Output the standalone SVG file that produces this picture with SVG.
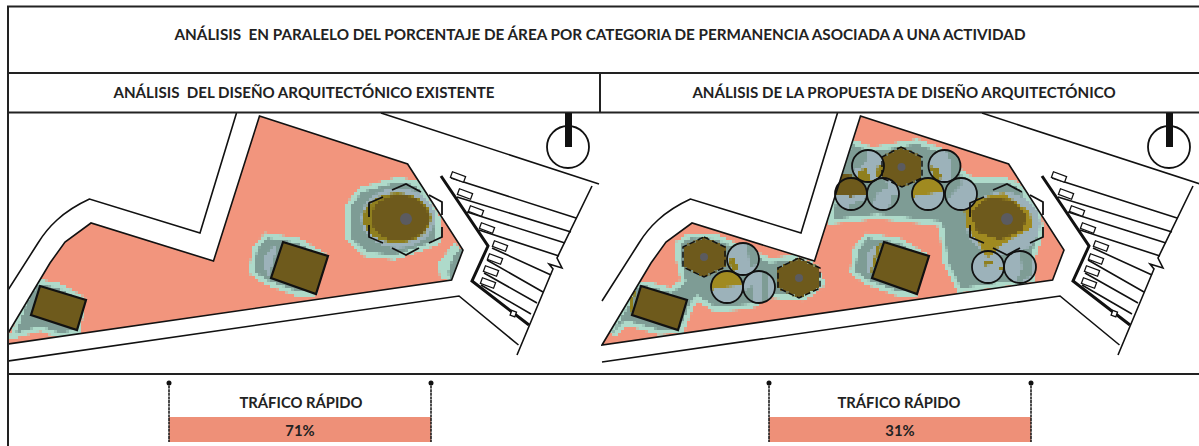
<svg xmlns="http://www.w3.org/2000/svg" width="1199" height="446" viewBox="0 0 1199 446">
<style>
text{font-family:Lato,"Liberation Sans",sans-serif;font-weight:700;fill:#222;text-anchor:middle;white-space:pre}
.t{font-size:15.25px}.h{font-size:15.1px}.b{font-size:14.8px}.p{font-size:14.8px}
.frame{stroke:#222;fill:none;stroke-width:2}
.ln{fill:none;stroke:#111;stroke-width:1.6;stroke-linejoin:miter}
.th{fill:none;stroke:#111;stroke-width:3}
.mt{fill:#AEDACA;stroke:#AEDACA;stroke-width:10}
.gg{fill:#7E9C95}.bl{fill:#9CB2BA}.br{fill:#6E5A1C}.ol{fill:#8F7F1E}.yl{fill:#A08A20}
.bd{fill:#6E5A1C;stroke:#111;stroke-width:2.2}
.hx{fill:none;stroke:#111;stroke-width:1.8}
.hs{fill:none;stroke:#111;stroke-width:1.5;stroke-dasharray:6 3}
.c{fill:none;stroke:#111;stroke-width:1.8}
.dot{fill:#5B5B60}
.st{fill:#fff;stroke:#111;stroke-width:1.3}
</style>
<defs>
<filter id="pix" filterUnits="userSpaceOnUse" x="0" y="0" width="1199" height="446" color-interpolation-filters="sRGB">
<feFlood x="1" y="1" width="1" height="1"/>
<feComposite width="3" height="3"/>
<feTile result="a"/>
<feComposite in="SourceGraphic" in2="a" operator="in"/>
<feMorphology operator="dilate" radius="1"/>
</filter>
<path id="site" d="M259.5 116L407.6 164L463 250L451.6 280L1 345L50 263L65 242L91 223L213.5 261Z"/>
<clipPath id="cl"><use href="#site"/></clipPath>
<clipPath id="cr"><use href="#site" x="601"/></clipPath>
<clipPath id="lp"><rect x="9" y="113" width="591" height="260"/></clipPath>
<clipPath id="rp"><rect x="601" y="113" width="598" height="260"/></clipPath>
<g id="plan">
<path class="ln" d="M236.5 113L200 233L89.5 199Q70 208 57 220Q46 230 38 243L1 301"/>
<path class="ln" d="M381 113L599 184"/>
<path class="ln" d="M1 362L459 296L518.5 345"/>
<path class="ln" d="M592 186L557 258L562 268L549 264L553 269L517 355"/>
<path class="th" d="M441 176L488 246L472 281L529 325"/>
<path class="ln" d="M451 178L576 218M457 197L571 232M467 212L565 243M479 230L559 256M492 248L551 275M487 260L543 292M484 273L537 303M481 285L531 314"/>
<g class="st">
<rect x="451" y="174" width="14" height="6" transform="rotate(20 458 177)"/>
<rect x="458" y="191" width="14" height="6" transform="rotate(20 465 194)"/>
<rect x="469" y="208" width="14" height="6" transform="rotate(20 476 211)"/>
<rect x="480" y="225" width="14" height="6" transform="rotate(20 487 228)"/>
<rect x="493" y="243" width="14" height="6" transform="rotate(20 500 246)"/>
<rect x="488" y="256" width="14" height="6" transform="rotate(20 495 259)"/>
<rect x="484" y="268" width="14" height="6" transform="rotate(20 491 271)"/>
<rect x="481" y="280" width="14" height="6" transform="rotate(20 488 283)"/>
<rect x="511" y="311" width="5" height="5" transform="rotate(20 513 313)"/>
</g>
<circle cx="568" cy="147" r="21" fill="none" stroke="#111" stroke-width="1.8"/>
<rect x="565" y="113" width="7" height="34" fill="#111"/>
</g>
<path id="h3" d="M267 238L298 243L320 256L312 291L299 292L267 280L254 271L257 250Z"/>
<path id="h3i" d="M265 255L274 245L277 247L269 276L265 270Z"/>
<path id="h1" d="M38 284L58 288L80 300L76 330L60 333L40 326L16 333L28 300Z"/>
<path id="bld3" class="bd" d="M283 242L328 256L316 294L271 278Z"/>
<path id="bld1" class="bd" d="M40 286L86 300L77 330L31 315Z"/>
<path id="hexbig" d="M392 190L406 184L421 192M429 195L442 202L442 215M442 227L442 237L429 243M419 248L406 255L392 248M383 243L369 237L369 225M369 217L369 203L383 197"/>
<clipPath id="c1"><circle cx="868" cy="166" r="16"/></clipPath>
<clipPath id="c2"><circle cx="851" cy="194" r="16"/></clipPath>
<clipPath id="c3"><circle cx="883" cy="194" r="16"/></clipPath>
<clipPath id="c4"><circle cx="944.5" cy="166" r="16"/></clipPath>
<clipPath id="c5"><circle cx="928" cy="194" r="16"/></clipPath>
<clipPath id="c6"><circle cx="961" cy="194" r="16"/></clipPath>
<clipPath id="c7"><circle cx="743" cy="259" r="16"/></clipPath>
<clipPath id="c8"><circle cx="727" cy="287" r="16"/></clipPath>
<clipPath id="c9"><circle cx="759" cy="287" r="16"/></clipPath>
<clipPath id="c10"><circle cx="988" cy="267" r="16"/></clipPath>
<clipPath id="c11"><circle cx="1020" cy="267" r="16"/></clipPath>
</defs>

<g id="border">
<path class="frame" d="M8 446V6.500H1199M8 73H1199M8 112.500H1199M8 374H1199M600 73V112.500"/>
</g>
<text class="t" x="600" y="40">ANÁLISIS  EN PARALELO DEL PORCENTAJE DE ÁREA POR CATEGORIA DE PERMANENCIA ASOCIADA A UNA ACTIVIDAD</text>
<text class="h" x="304" y="97.500">ANÁLISIS  DEL DISEÑO ARQUITECTÓNICO EXISTENTE</text>
<text class="h" x="904" y="97.500">ANÁLISIS DE LA PROPUESTA DE DISEÑO ARQUITECTÓNICO</text>

<g id="site-existing" clip-path="url(#lp)">
<use href="#site" fill="#F2957D"/>
<g clip-path="url(#cl)"><g filter="url(#pix)">
<use href="#h3" class="mt"/><use href="#h3" class="gg"/><use href="#h3i" class="bl"/>
<use href="#h1" class="mt"/><use href="#h1" class="gg"/>
<path class="mt" d="M398 182L417 186L436 220L436 240L421 246L394 255L367 252L350 237L350 207L362 192Z"/>
<path class="gg" d="M398 182L417 186L436 220L436 240L421 246L394 255L367 252L350 237L350 207L362 192Z"/>
<ellipse class="bl" cx="398" cy="218" rx="37" ry="30"/>
<ellipse class="ol" cx="397" cy="218" rx="34" ry="25"/>
<ellipse class="br" cx="400" cy="218" rx="29" ry="23"/>
<path fill="#AEDACA" d="M455 242L464 252L452 282L440 278L438 263Z"/>
<path class="gg" d="M459 250L464 250L452 282L448 273L453 257Z"/>
</g></g>
<circle class="dot" cx="406" cy="219" r="6"/>
<use href="#hexbig" class="hx"/>
<use href="#bld3"/><use href="#bld1"/>
<use href="#site" class="ln"/>
<use href="#plan"/>
</g>

<g id="site-proposal" clip-path="url(#rp)">
<use href="#site" x="601" fill="#F2957D"/>
<g clip-path="url(#cr)"><g filter="url(#pix)">
<g transform="translate(601 0)"><use href="#h3" class="mt"/><use href="#h3" class="gg"/><use href="#h3i" class="bl"/></g>
<path id="hA" class="mt" d="M853 145L872 152L917 144L938 152L956 172L973 183L1003 182L1017 187L1036 213L1039 232L1031 255L1031 278L961 288L948 262L944 228L940 221L877 214L833 219L843 158Z"/>
<path class="gg" d="M853 145L872 152L917 144L938 152L956 172L973 183L1003 182L1017 187L1036 213L1039 232L1031 255L1031 278L961 288L948 262L944 228L940 221L877 214L833 219L843 158Z"/>
<path class="mt" d="M638 286L646 286L672 293L686 282L680 255L681 244L690 238L715 239L740 250L770 263L795 260L813 268L820 283L803 296L770 293L750 304L716 307L697 295L690 303L680 328L660 330L625 320L612 333L632 300Z"/>
<path class="gg" d="M638 286L646 286L672 293L686 282L680 255L681 244L690 238L715 239L740 250L770 263L795 260L813 268L820 283L803 296L770 293L750 304L716 307L697 295L690 303L680 328L660 330L625 320L612 333L632 300Z"/>
<ellipse class="bl" cx="1003" cy="224" rx="37" ry="32"/>
<path class="yl" d="M963 202L1003 193L1030 212L1032 228L1013 238L997 248L993 262L987 262L980 245L967 228Z"/>
<path class="br" d="M970 212L987 198L1013 200L1027 215L1023 230L1000 240L977 232Z"/>
<path class="br" d="M901 147L922 157L922 178L902 187L882 178L882 157Z"/>
<path class="br" d="M704 237L725 247L725 267L704 277L683 267L683 247Z"/>
<path class="br" d="M799 258L820 268L820 288L799 298L778 288L778 268Z"/>
<path class="ol" d="M877 247L882 243L872 275L871 270Z"/>
<path class="ol" d="M631 297L636 289L631 315L629 310Z"/>
<path class="br" d="M840 172L850 175L862 178L864 190L838 190Z"/>
</g></g>
<g id="trees-proposal">
<g clip-path="url(#c1)"><g filter="url(#pix)"><rect class="bl" x="850" y="148" width="36" height="36"/><path class="gg" d="M852 150H868V158L860 168L852 170Z"/><path class="ol" d="M857 172L866 168L872 182L860 184ZM878 165L884 166L884 178L876 176Z"/></g></g>
<g clip-path="url(#c2)"><g filter="url(#pix)"><rect class="bl" x="833" y="176" width="36" height="36"/><path class="br" d="M833 176H869V194L855 194L852 198L848 195L833 194Z"/><path class="gg" d="M848 205L869 198V212H848Z"/></g></g>
<g clip-path="url(#c3)"><g filter="url(#pix)"><rect class="bl" x="865" y="176" width="36" height="36"/><path class="gg" d="M865 176H885L888 188L878 192L870 210L865 210Z"/><path class="gg" d="M892 195L900 195V212H888Z"/></g></g>
<g clip-path="url(#c4)"><g filter="url(#pix)"><rect class="bl" x="926" y="148" width="36" height="36"/><path class="gg" d="M945 148H962V184H950L952 165Z"/><path class="ol" d="M930 166L938 168L942 178L934 180Z"/></g></g>
<g clip-path="url(#c5)"><g filter="url(#pix)"><rect class="bl" x="910" y="176" width="36" height="36"/><path class="yl" d="M910 176H946V190L935 193L920 195L910 198Z"/></g></g>
<g clip-path="url(#c6)"><g filter="url(#pix)"><rect class="bl" x="943" y="176" width="36" height="36"/><path class="gg" d="M943 176H960L962 184L950 196L945 212H943Z"/></g></g>
<g clip-path="url(#c7)"><g filter="url(#pix)"><rect class="bl" x="725" y="241" width="36" height="36"/><path class="gg" d="M745 241H761V262L750 268L748 252Z"/><path class="ol" d="M728 260L734 258L738 268L733 272Z"/></g></g>
<g clip-path="url(#c8)"><g filter="url(#pix)"><rect class="bl" x="709" y="269" width="36" height="36"/><path class="yl" d="M709 269H745V283L735 286L715 288L709 292Z"/></g></g>
<g clip-path="url(#c9)"><g filter="url(#pix)"><rect class="bl" x="741" y="269" width="36" height="36"/><path class="gg" d="M762 269H769V305H762ZM745 290L752 286L752 305L745 305Z"/></g></g>
<g clip-path="url(#c10)"><g filter="url(#pix)"><rect class="bl" x="970" y="249" width="36" height="36"/><path class="ol" d="M984 261L994 260L994 264L984 266ZM1000 266L1006 266L1006 270L1000 270Z"/><path class="yl" d="M983 249L995 249L990 257L985 256Z"/></g></g>
<g clip-path="url(#c11)"><g filter="url(#pix)"><rect class="bl" x="1002" y="249" width="36" height="36"/><path class="gg" d="M1020 249H1032V275L1015 285L1022 268Z"/></g></g>
<g class="c"><circle cx="868" cy="166" r="16"/><circle cx="851" cy="194" r="16"/><circle cx="883" cy="194" r="16"/><circle cx="944.5" cy="166" r="16"/><circle cx="928" cy="194" r="16"/><circle cx="961" cy="194" r="16"/><circle cx="743" cy="259" r="16"/><circle cx="727" cy="287" r="16"/><circle cx="759" cy="287" r="16"/><circle cx="988" cy="267" r="16"/><circle cx="1020" cy="267" r="16"/></g>
<circle class="dot" cx="1007" cy="219" r="6"/>
<circle class="dot" cx="901.5" cy="167" r="4"/><path class="hs" d="M901 147L922 157L922 178L902 187L882 178L882 157Z"/>
<circle class="dot" cx="704" cy="257" r="4"/><path class="hs" d="M704 237L725 247L725 267L704 277L683 267L683 247Z"/>
<circle class="dot" cx="799" cy="278" r="4"/><path class="hs" d="M799 258L820 268L820 288L799 298L778 288L778 268Z"/>
<use href="#hexbig" class="hx" x="601"/>
<use href="#bld3" x="601"/><use href="#bld1" x="601"/>
</g>
<use href="#site" x="601" class="ln"/>
<use href="#plan" x="601"/>
</g>

<g id="bar-existing">
<rect x="169" y="417" width="262" height="25" fill="#EE9078"/>
<path d="M169 382V442M431 382V442" stroke="#111" stroke-width="1.5" stroke-dasharray="3 .6"/>
<circle cx="169" cy="383" r="2.5" fill="#111"/><circle cx="431" cy="383" r="2.5" fill="#111"/>
<text class="b" x="301" y="408">TRÁFICO RÁPIDO</text>
<text class="p" x="300" y="436">71%</text>
</g>
<g id="bar-proposal">
<rect x="769" y="417" width="262" height="25" fill="#EE9078"/>
<path d="M769 382V442M1031 382V442" stroke="#111" stroke-width="1.5" stroke-dasharray="3 .6"/>
<circle cx="769" cy="383" r="2.5" fill="#111"/><circle cx="1031" cy="383" r="2.5" fill="#111"/>
<text class="b" x="899" y="408">TRÁFICO RÁPIDO</text>
<text class="p" x="900" y="436">31%</text>
</g>
</svg>
